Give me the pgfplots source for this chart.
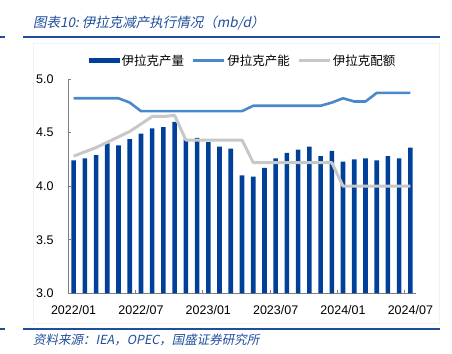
\documentclass[border=0pt]{standalone}
\usepackage{pgfplots}
\pgfplotsset{compat=1.18}
\usepackage{pgfplotstable}
\usepackage{fontspec}
\setmainfont{Liberation Sans}
\newfontfamily\cjk{Noto Sans CJK SC}
\newfontfamily\cjkit{Noto Sans CJK SC}[FakeSlant=0.2]
\definecolor{barblue}{RGB}{0,64,152}
\definecolor{capblue}{RGB}{74,136,204}
\definecolor{quotagray}{RGB}{200,200,200}
\definecolor{titleblue}{RGB}{31,78,155}
\definecolor{axisgray}{RGB}{128,128,128}

\pgfplotstableread{
x prod cap quota
0 4.24 4.82 4.28
1 4.26 4.82 4.32
2 4.29 4.82 4.36
3 4.40 4.82 4.41
4 4.38 4.82 4.46
5 4.44 4.78 4.51
6 4.49 4.70 4.58
7 4.54 4.70 4.65
8 4.55 4.70 4.65
9 4.60 4.70 4.66
10 4.44 4.70 4.43
11 4.45 4.70 4.43
12 4.41 4.70 4.43
13 4.37 4.70 4.43
14 4.35 4.70 4.43
15 4.10 4.70 4.43
16 4.09 4.75 4.22
17 4.17 4.75 4.22
18 4.26 4.75 4.22
19 4.31 4.75 4.22
20 4.34 4.75 4.22
21 4.37 4.75 4.22
22 4.28 4.75 4.22
23 4.33 4.78 4.22
24 4.23 4.82 4.00
25 4.25 4.79 4.00
26 4.26 4.79 4.00
27 4.24 4.87 4.00
28 4.28 4.87 4.00
29 4.26 4.87 4.00
30 4.36 4.87 4.00
}\data

\begin{document}
\begin{tikzpicture}
\path[use as bounding box] (0,0) rectangle (452bp,354bp);
\draw[gray!12, line width=0.5bp] (33bp,31bp) rectangle (439bp,311bp);
\begin{axis}[
  at={(68bp,60.7bp)}, anchor=south west,
  scale only axis, width=348bp, height=214.3bp,
  xmin=-0.5, xmax=30.5, ymin=3, ymax=5,
  axis x line*=bottom, axis y line*=left,
  axis line style={axisgray, line width=0.8bp},
  tick align=inside,
  major tick length=3bp,
  ytick={3,3.5,4,4.5,5},
  ytick style={axisgray, line width=0.6bp},
  yticklabel style={/pgf/number format/fixed, /pgf/number format/fixed zerofill, /pgf/number format/precision=1, xshift=-11bp},
  xtick={0,6,12,18,24,30},
  xticklabels={2022/01,2022/07,2023/01,2023/07,2024/01,2024/07},
  xtick style={draw=none},
  xticklabel style={yshift=-9bp},
  extra x ticks={5.5,11.5,17.5,23.5,29.5},
  extra x tick labels={},
  extra x tick style={xtick style={draw=axisgray, line width=0.6bp}},
  ticklabel style={font=\fontsize{12.5bp}{14bp}\selectfont},
  /pgf/number format/assume math mode=true,
  legend style={at={(0.503,1.086)}, anchor=center, draw=none, fill=none,
    legend columns=3, font=\cjk\fontsize{12.5bp}{14bp}\selectfont,
    /tikz/every even column/.append style={column sep=6bp}},
  legend cell align=left,
  clip=true,
]
\addplot[ybar, bar width=4.6bp, fill=barblue, draw=none,
  legend image code/.code={\fill[barblue] (0bp,-2.3bp) rectangle (31bp,2.3bp);}]
  table[x=x,y=prod]{\data};
\addlegendentry{伊拉克产量}
\addplot[capblue, line width=2.6bp, line join=round,
  legend image code/.code={\draw[capblue, line width=2.2bp] (0bp,0bp) -- (31bp,0bp);}]
  table[x=x,y=cap]{\data};
\addlegendentry{伊拉克产能}
\addplot[quotagray, line width=3bp, line join=round,
  legend image code/.code={\draw[quotagray, line width=2.2bp] (0bp,0bp) -- (31bp,0bp);}]
  table[x=x,y=quota]{\data};
\addlegendentry{伊拉克配额}
\end{axis}
\node[anchor=west, text=titleblue, font=\cjkit\fontsize{13.5bp}{15bp}\selectfont, inner sep=0pt] at (33bp,331bp) {图表10:\ 伊拉克减产执行情况（mb/d）};
\draw[titleblue, line width=2bp] (23bp,317bp) -- (440bp,317bp);
\draw[titleblue, line width=2bp] (0bp,317bp) -- (5bp,317bp);
\draw[titleblue, line width=2bp] (23bp,24.5bp) -- (440bp,24.5bp);
\draw[titleblue, line width=2bp] (0bp,24.5bp) -- (5bp,24.5bp);
\node[anchor=west, text=titleblue, font=\cjkit\fontsize{12.5bp}{15bp}\selectfont, inner sep=0pt] at (33bp,14bp) {资料来源：IEA，OPEC，国盛证券研究所};
\end{tikzpicture}
\end{document}
